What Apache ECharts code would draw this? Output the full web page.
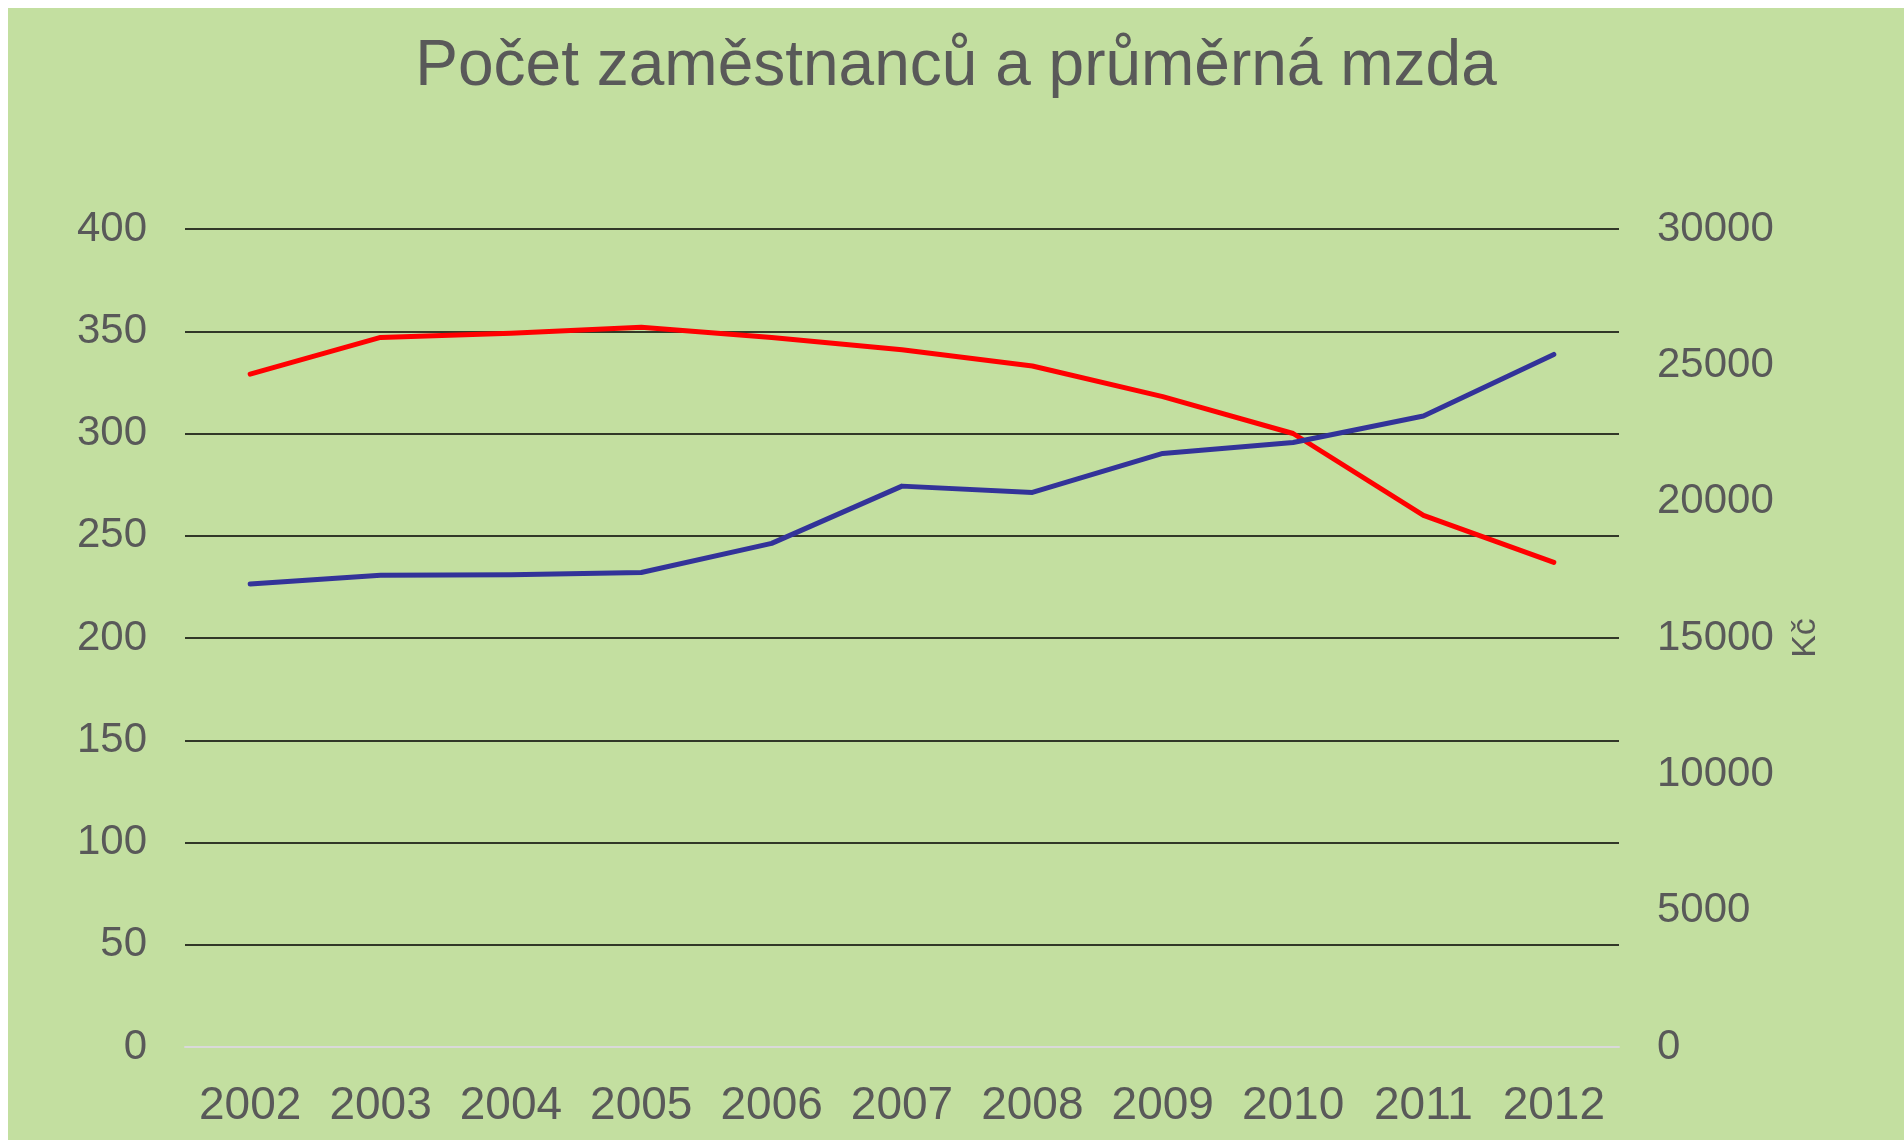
<!DOCTYPE html>
<html>
<head>
<meta charset="utf-8">
<script src="https://cdn.jsdelivr.net/npm/echarts@6/dist/echarts.min.js"></script>
<style>
  html, body { margin: 0; padding: 0; background: #fff; }
  #chart { position: absolute; left: 8px; top: 8px; width: 1896px; height: 1132px; }
</style>
</head>
<body>
<div id="chart"></div>
<script>
// roky
var years = ["2002", "2003", "2004", "2005", "2006", "2007", "2008", "2009", "2010", "2011", "2012"];
// počet zaměstnanců (levá osa)
var employees = [329, 347, 349, 352, 347, 341, 333, 318, 300, 260, 237];
// průměrná mzda v Kč (pravá osa)
var avgWage = [16980, 17300, 17320, 17400, 18470, 20570, 20340, 21770, 22170, 23140, 25400];

var font = "Liberation Sans, Arial, sans-serif";
var grey = "#595959";

var chart = echarts.init(document.getElementById("chart"));

var option = {
  animation: false,
  backgroundColor: "#C3DFA0",
  title: {
    text: "Počet zaměstnanců a průměrná mzda",
    left: "center",
    top: 27,
    padding: 0,
    textStyle: {
      fontFamily: font,
      fontSize: 64,
      fontWeight: "normal",
      color: grey
    }
  },
  grid: {
    left: 177,
    right: 285,
    top: 221,
    bottom: 93
  },
  xAxis: {
    type: "category",
    data: years,
    boundaryGap: true,
    axisLine: { show: true, lineStyle: { color: "#D9D9D9", width: 2 } },
    axisTick: { show: false },
    axisLabel: { interval: 0, margin: 36, fontFamily: font, fontSize: 46, color: grey }
  },
  yAxis: [
    {
      type: "value",
      min: 0,
      max: 400,
      interval: 50,
      axisLine: { show: false },
      axisTick: { show: false },
      axisLabel: { margin: 38, fontFamily: font, fontSize: 42, color: grey },
      splitLine: { show: true, lineStyle: { color: "#000", width: 1.5 } }
    },
    {
      type: "value",
      position: "right",
      min: 0,
      max: 30000,
      interval: 5000,
      name: "Kč",
      nameLocation: "middle",
      nameRotate: 90,
      nameGap: 170,
      nameTextStyle: { fontFamily: font, fontSize: 34, color: grey },
      axisLine: { show: false },
      axisTick: { show: false },
      axisLabel: {
        margin: 38, fontFamily: font, fontSize: 42, color: grey,
        formatter: function (v) { return String(v); }
      },
      splitLine: { show: false }
    }
  ],
  series: [
    {
      name: "Počet zaměstnanců",
      type: "line",
      yAxisIndex: 0,
      data: employees,
      showSymbol: false,
      symbol: "none",
      lineStyle: { color: "#FF0000", width: 5, cap: "round", join: "round" },
      z: 3
    },
    {
      name: "Průměrná mzda",
      type: "line",
      yAxisIndex: 1,
      data: avgWage,
      showSymbol: false,
      symbol: "none",
      lineStyle: { color: "#333399", width: 5, cap: "round", join: "round" },
      z: 4
    }
  ]
};

chart.setOption(option);
window.addEventListener("resize", chart.resize);
</script>
</body>
</html>
